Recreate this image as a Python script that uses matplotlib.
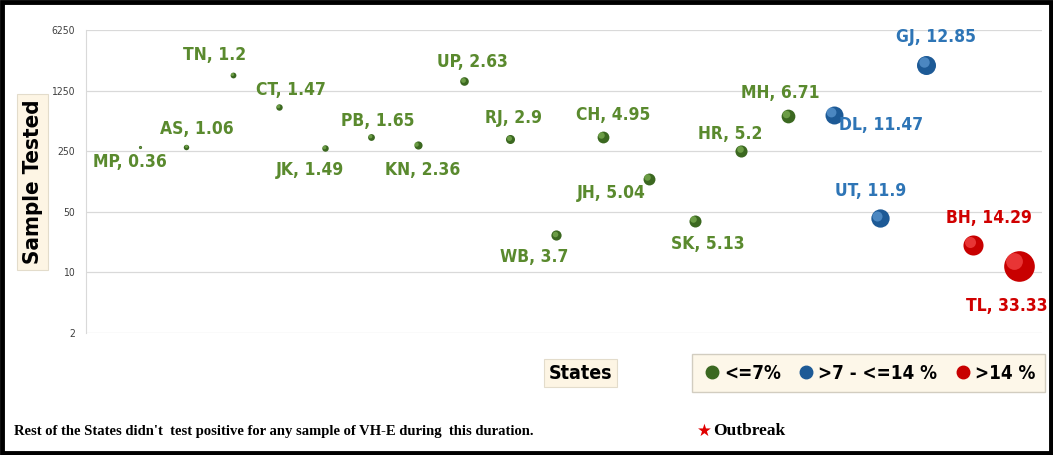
import matplotlib
matplotlib.use("Agg")
import matplotlib.pyplot as plt
from matplotlib.lines import Line2D
from matplotlib.patches import Rectangle
from matplotlib import font_manager
import matplotlib.transforms as mtransforms

# data
states = ["MP", "AS", "TN", "CT", "JK", "PB", "KN", "UP", "RJ", "WB",
          "CH", "JH", "SK", "HR", "MH", "DL", "UT", "GJ", "BH", "TL"]
positivity = [0.36, 1.06, 1.2, 1.47, 1.49, 1.65, 2.36, 2.63, 2.9, 3.7,
              4.95, 5.04, 5.13, 5.2, 6.71, 11.47, 11.9, 12.85, 14.29, 33.33]
samples = [278, 283, 1890, 815, 270, 364, 297, 1597, 345, 27,
           364, 119, 39, 250, 641, 654, 42, 2460, 21, 12]
# label offsets (pixels) from bubble centre
label_dx = [-10, 10, -18, 12, -15, 6, 5, 9, 3, -22, 11, -38, 13, -11, -7, 47, -10, 10, 16, -12]
label_dy = [-15, 18, 20, 17, -22, 16, -25, 19, 21, -22, 22, -14, -23, 17, 23, -10, 27, 28, 27, -40]
yticks = [2, 10, 50, 250, 1250, 6250]

groups = {
    "green": dict(base="#3b6820", light="#8cbf5e", text="#5a8a2e"),
    "blue": dict(base="#1d5a96", light="#6aa6de", text="#2e75b6"),
    "red": dict(base="#c80000", light="#ff5a5a", text="#d00000"),
}


def group_of(p):
    if p <= 7:
        return "green"
    if p <= 14:
        return "blue"
    return "red"


def pick_narrow(bold=True):
    # look for an installed narrow/condensed sans font, else Lato
    best = None
    for f in font_manager.fontManager.ttflist:
        name = (f.name + " " + str(f.stretch) + " " + f.fname).lower()
        if "mono" in name or "serif" in name.replace("sans", ""):
            continue
        if ("narrow" in name or "condensed" in name) and "extra" not in name and "semi" not in name:
            is_bold = f.weight in ("bold", 700) or "bold" in f.fname.lower()
            if is_bold == bold and "italic" not in f.fname.lower() and "oblique" not in f.fname.lower():
                best = f.fname
                if "liberation" in name or "dejavu" in name:
                    break
    if best:
        return font_manager.FontProperties(fname=best)
    return font_manager.FontProperties(family="Lato", weight="bold" if bold else "normal")


fp_bold = pick_narrow(True)
fp_reg = pick_narrow(False)


def fp(size, base=fp_bold):
    p = base.copy()
    p.set_size(size)
    return p


fig = plt.figure(figsize=(10.53, 4.55), dpi=100)
ax = fig.add_axes([0.0817, 0.268, 0.9079, 0.666])

xs = list(range(1, len(states) + 1))
for x, y, p, name, dx, dy in zip(xs, samples, positivity, states, label_dx, label_dy):
    g = groups[group_of(p)]
    s = 14.6 * p
    d = s ** 0.5  # diameter in points
    # fake 3D sphere: base plus offset highlight
    ax.scatter([x], [y], s=s, color=g["base"], zorder=3, linewidths=0)
    tr = mtransforms.offset_copy(ax.transData, fig=fig, x=-d * 0.15, y=d * 0.15, units="points")
    ax.scatter([x], [y], s=s * 0.3, color=g["light"], transform=tr, zorder=4,
               linewidths=0, alpha=0.6)
    ax.annotate(f"{name}, {p:g}", (x, y), xytext=(dx, dy), textcoords="offset pixels",
                ha="center", va="center", color=g["text"], zorder=5,
                fontproperties=fp(12.5))

# leader line for BH
ax.annotate("", (19, 21), xytext=(8, 8), textcoords="offset pixels",
            arrowprops=dict(arrowstyle="-", color="#c00000", lw=0.8))

ax.set_yscale("log")
ax.set_ylim(2, 6250)
ax.set_xlim(-0.17, 20.5)
ax.set_yticks(yticks)
ax.set_yticklabels([str(t) for t in yticks])
ax.minorticks_off()
ax.tick_params(axis="y", length=0, labelcolor="#404040", pad=8)
ax.tick_params(axis="x", bottom=False, labelbottom=False)
for lab in ax.get_yticklabels():
    lab.set_fontproperties(fp(7.5, fp_reg))
ax.grid(axis="y", color="#d9d9d9", lw=0.9)
ax.set_axisbelow(True)
for side in ["top", "right", "bottom"]:
    ax.spines[side].set_visible(False)
ax.spines["left"].set_color("#d9d9d9")

box = dict(boxstyle="square,pad=0.25", facecolor="#fdf5e4", edgecolor="#e3dccb", lw=0.8)
fig.text(0.031, 0.6, "Sample Tested", rotation=90, ha="center", va="center",
         color="#000000", bbox=box, fontproperties=fp(16))
fig.text(0.551, 0.18, "States", ha="center", va="center", bbox=box,
         fontproperties=fp(14))

handles = [Line2D([], [], marker="o", ls="", markersize=9,
                  markerfacecolor=groups[k]["base"], markeredgecolor=groups[k]["base"])
           for k in ["green", "blue", "red"]]
leg = fig.legend(handles, ["<=7%", ">7 - <=14 %", ">14 %"], ncol=3,
                 loc="center", bbox_to_anchor=(0.8247, 0.18), frameon=True,
                 fancybox=False, handletextpad=0.1, columnspacing=0.8,
                 handlelength=1.1, borderpad=0.5, prop=fp(13.5))
leg.get_frame().set_facecolor("#fdf5e4")
leg.get_frame().set_edgecolor("#c8c2b4")

fig.text(0.013, 0.052, "Rest of the States didn't  test positive for any sample of VH-E during  this duration.",
         ha="left", va="center", fontsize=10.5, fontweight="bold", family="Liberation Serif")
fig.text(0.662, 0.052, "\u2605", ha="left", va="center", fontsize=12, color="#e00000",
         family="DejaVu Sans")
fig.text(0.677, 0.052, "Outbreak", ha="left", va="center", fontsize=12.5,
         fontweight="bold", family="Liberation Serif")

fig.patches.append(Rectangle((0.002, 0.004), 0.996, 0.992, transform=fig.transFigure,
                             fill=False, edgecolor="black", lw=3.5))

fig.savefig("out.png", dpi=100)
